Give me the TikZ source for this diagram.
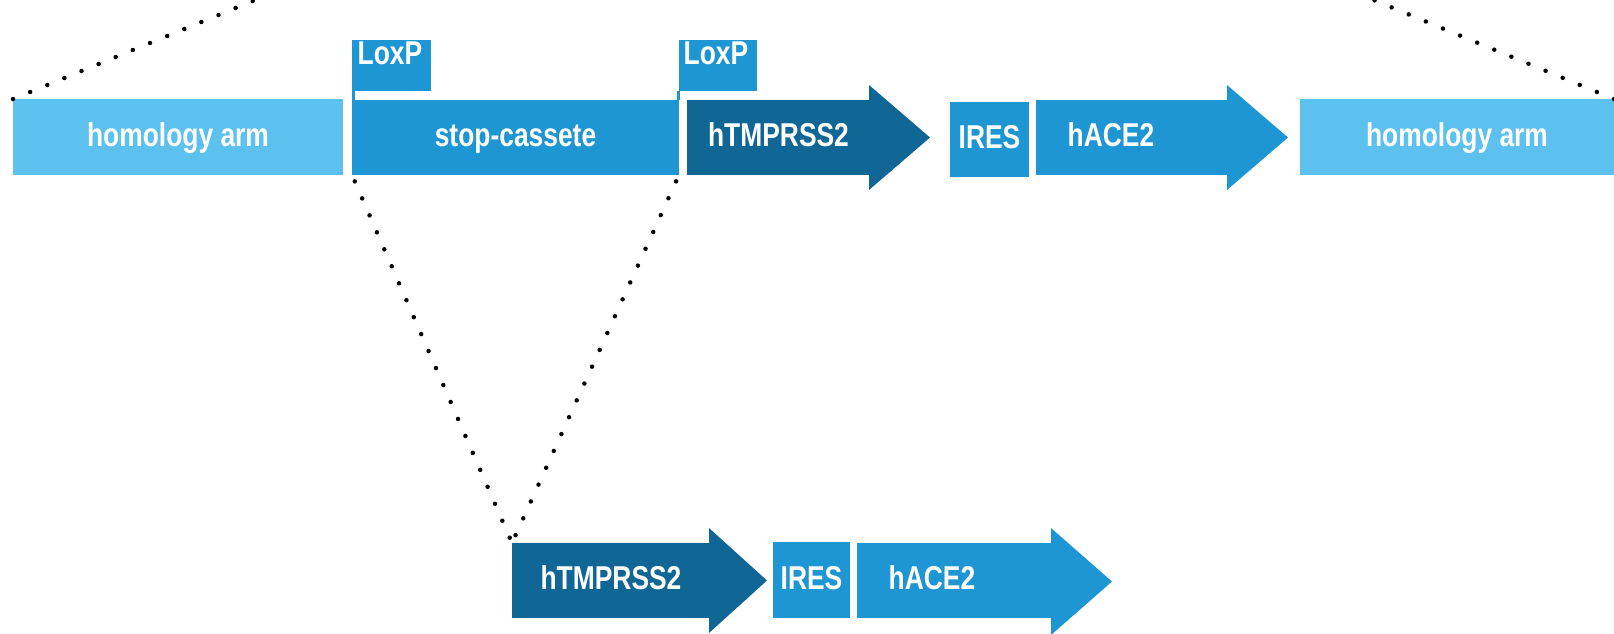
\documentclass[tikz,border=0pt]{standalone}
\usepackage{fontspec}
\setmainfont{Liberation Sans}[FakeStretch=0.8]
\usepackage{tikz}
\definecolor{armblue}{RGB}{92,193,238}
\definecolor{midblue}{RGB}{31,150,212}
\definecolor{darkblue}{RGB}{16,103,150}

\begin{document}
\begin{tikzpicture}[x=1pt,y=1pt,yscale=-1,xscale=1,
  genetext/.style={text=white,inner sep=0pt,outer sep=0pt,font=\bfseries\fontsize{33pt}{35pt}\selectfont,text height=23pt,text depth=5pt},
  genebox/.style={genetext},
  armbox/.style={genebox,fill=armblue},
  midbox/.style={genebox,fill=midblue},
  darkbox/.style={genebox,fill=darkblue},
  dotline/.style={line width=4.5pt,line cap=round,dash pattern=on 0pt off 18.5pt}]
\useasboundingbox (0,0) rectangle (1614,634);
\clip (0,0) rectangle (1614,634);

%Shape: Rectangle [homology arm, left]
\node[armbox,minimum width=330pt,minimum height=76pt] (armL) at (178,137) {homology arm};
%Shape: Rectangle [stop-cassete]
\node[midbox,minimum width=327pt,minimum height=75pt] (stop) at (515.5,137.5) {stop-cassete};

%Shape: Rectangle [LoxP flags]
\node[midbox,minimum width=79pt,minimum height=51pt] (loxA) at (391.5,65.5) {};
\fill[midblue] (loxA.south west) rectangle ([xshift=3pt]stop.north west);
\node[midbox,minimum width=78pt,minimum height=51pt] (loxB) at (718,65.5) {};
\fill[midblue] ([xshift=-2pt]stop.north east) rectangle ([xshift=1pt]loxB.south west);

%Shape: Right Arrow [hTMPRSS2, top]
\node[darkbox,minimum width=183pt,minimum height=75pt] (tmpA) at (778.5,137.5) {hTMPRSS2};
\fill[darkblue] (tmpA.north east) ++(-1,-15) -- ++(61,52.5) -- ++(-61,52.5) -- cycle;
%Shape: Rectangle [IRES, top]
\node[midbox,minimum width=79pt,minimum height=75pt] (iresA) at (989.5,139.5) {IRES};
%Shape: Right Arrow [hACE2, top]
\node[midbox,minimum width=192pt,minimum height=75pt] (aceA) at (1132,137.5) {};
\fill[midblue] (aceA.north east) ++(-1,-15) -- ++(61,52.5) -- ++(-61,52.5) -- cycle;
%Shape: Rectangle [homology arm, right]
\node[armbox,minimum width=314pt,minimum height=76pt] (armR) at (1457,137) {homology arm};

%Shape: Right Arrow [hTMPRSS2, bottom]
\node[darkbox,minimum width=198pt,minimum height=75pt] (tmpB) at (611,580.5) {hTMPRSS2};
\fill[darkblue] (tmpB.north east) ++(-1,-15) -- ++(58,52.5) -- ++(-58,52.5) -- cycle;
%Shape: Rectangle [IRES, bottom]
\node[midbox,minimum width=77pt,minimum height=76pt] (iresB) at (811.5,580) {IRES};
%Shape: Right Arrow [hACE2, bottom]
\node[midbox,minimum width=195pt,minimum height=75pt] (aceB) at (954.5,580.5) {};
\fill[midblue] (aceB.north east) ++(-1,-15) -- ++(61,53.5) -- ++(-61,53.5) -- cycle;

% Text Node
\node[genetext] (loxAtxt) at (390,55) {LoxP};
% Text Node
\node[genetext] (loxBtxt) at (716,55) {LoxP};
% Text Node
\node[genetext] (aceAtxt) at (1111,137.5) {hACE2};
% Text Node
\node[genetext] (aceBtxt) at (932,580.5) {hACE2};

%Dotted Lines
\coordinate (topL) at (265,-4);
\coordinate (topR) at (1364,-4);
\draw[dotline] (armL.north west) -- (topL);
\draw[dotline] (armR.north east) -- (topR);
\draw[dotline,shorten <=7pt] (stop.south west) -- (tmpB.north west);
\draw[dotline,shorten <=7pt] (stop.south east) -- (tmpB.north west);

\end{tikzpicture}
\end{document}
